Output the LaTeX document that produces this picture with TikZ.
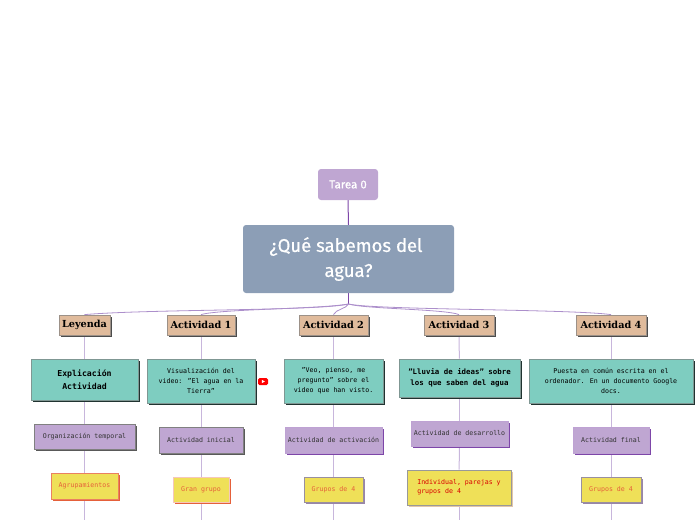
\documentclass[tikz,border=0pt]{standalone}
\usepackage{fontspec}
\setmainfont{DejaVu Sans Mono}
\newfontfamily\titulofont[FakeBold=0.5]{Fira Sans}
\newfontfamily\cabecerafont{DejaVu Serif}
\usetikzlibrary{shadows,backgrounds}
\definecolor{azultitulo}{HTML}{8C9EB6}
\definecolor{lila}{HTML}{BFA6D2}
\definecolor{lilaosc}{HTML}{7D46A8}
\definecolor{linea}{HTML}{C8B6DC}
\definecolor{rama}{HTML}{AC8FCB}
\definecolor{turquesa}{HTML}{7ECDC0}
\definecolor{marron}{HTML}{E0BB9C}
\definecolor{amarillo}{HTML}{EFE058}
\definecolor{naranja}{HTML}{E5603A}
\tikzset{
	sombra/.style={drop shadow={shadow xshift=1.6pt,shadow yshift=-1.6pt,fill=#1,opacity=1}},
	caja/.style={rectangle,inner sep=0pt,align=center,line width=0.8pt},
	cabecera/.style={caja,fill=marron,draw=gray!70!marron,sombra=black!70,minimum height=20pt,font=\cabecerafont\bfseries\fontsize{9.7}{11}\selectfont},
	explica/.style={caja,fill=turquesa,draw=gray!70!turquesa,sombra=black!75!turquesa,font=\fontsize{6.6}{10}\selectfont},
	tiempo/.style={caja,fill=lila,draw=lilaosc!50,sombra=lilaosc,minimum height=25pt,text=black!80,font=\fontsize{6.6}{9}\selectfont},
	grupo/.style={caja,fill=amarillo,draw=gray!60!lila,sombra=black!20!lila,minimum height=25pt,text=naranja,font=\fontsize{6.6}{9}\selectfont},
	union/.style={line width=1pt,linea},
	curva/.style={line width=0.8pt,rama},
}
\begin{document}
\begin{tikzpicture}[x=1pt,y=-1pt]
	\useasboundingbox (0,0) rectangle (696,520);

	% Tarea y titulo
	\node[rectangle,rounded corners=3pt,fill=lila,text=white,minimum width=60pt,minimum height=31pt,font=\titulofont\fontsize{11.5}{14}\selectfont] (tarea) at (348,184.5) {Tarea 0};
	\node[rectangle,rounded corners=3pt,fill=azultitulo,text=white,align=center,minimum width=211pt,minimum height=68pt,font=\titulofont\fontsize{18.5}{25}\selectfont] (titulo) at (348.5,259) {¿Qué sabemos del\hspace*{5pt}\\agua?};
	\coordinate (centro) at (348.5,304);

	% Leyenda
	\node[cabecera,minimum width=51pt] (cab0) at (84.5,325) {Leyenda};
	\node[explica,minimum width=107pt,minimum height=41pt,font=\bfseries\fontsize{8.2}{13}\selectfont] (exp0) at (84.5,379.5) {Explicación\\ Actividad};
	\node[tiempo,minimum width=101pt,draw=gray,sombra=black!65] (tie0) at (84.5,436.5) {Organización temporal};
	\node[grupo,minimum width=67pt,minimum height=26pt,draw=naranja!80,sombra=naranja] (gru0) at (84.5,486) {Agrupamientos};

	% Actividad 1
	\node[cabecera,minimum width=68pt] (cab1) at (201,325) {Actividad 1};
	\node[explica,minimum width=108pt,minimum height=44pt] (exp1) at (201,381) {Visualización del\\video: "El agua en la\\Tierra"};
	\node[tiempo,minimum width=84pt,minimum height=26pt,draw=gray,sombra=black!65] (tie1) at (201,440) {Actividad inicial};
	\node[grupo,minimum width=56pt,draw=naranja!35,sombra=naranja] (gru1) at (201,489.5) {Gran grupo};
	\node[rectangle,rounded corners=1.5pt,fill=red,minimum width=10pt,minimum height=7pt,inner sep=0pt] (video) at (263,381.5) {};
	\fill[white] (261.8,379.8) -- (264.8,381.5) -- (261.8,383.2) -- cycle;

	% Actividad 2
	\node[cabecera,minimum width=69pt] (cab2) at (333.5,325) {Actividad 2};
	\node[explica,minimum width=99pt,minimum height=44pt] (exp2) at (333.5,381) {"Veo, pienso, me\\pregunto" sobre el\\video que han visto.};
	\node[tiempo,minimum width=97pt,minimum height=26pt] (tie2) at (333.5,440) {Actividad de activación};
	\node[grupo,minimum width=59pt] (gru2) at (333.5,489.5) {Grupos de 4};

	% Actividad 3
	\node[cabecera,minimum width=70pt] (cab3) at (459,325) {Actividad 3};
	\node[explica,minimum width=121pt,minimum height=38pt,font=\bfseries\fontsize{7.4}{11}\selectfont] (exp3) at (459.5,378) {"Lluvia de ideas" sobre\\los que saben del agua};
	\node[tiempo,minimum width=97pt] (tie3) at (459.5,433.5) {Actividad de desarrollo};
	\node[grupo,minimum width=104pt,minimum height=35pt,text=red!85!black,align=left,draw=gray!80,sombra=brown!45] (gru3) at (459,487.5) {Individual, parejas y\\grupos de 4\hspace*{39.6pt}};

	% Actividad 4
	\node[cabecera,minimum width=70pt] (cab4) at (611,325) {Actividad 4};
	\node[explica,minimum width=164pt,minimum height=44pt] (exp4) at (611,381) {Puesta en común escrita en el\\ordenador. En un documento Google\\docs.};
	\node[tiempo,minimum width=76pt,minimum height=26pt] (tie4) at (611,440) {Actividad final};
	\node[grupo,minimum width=60pt] (gru4) at (611,489.5) {Grupos de 4};

	% Conectores
	\begin{pgfonlayer}{background}
		\draw[line width=1pt,lilaosc] (tarea.south) -- (titulo.north);
		\draw[line width=1pt,lilaosc] (titulo.south) -- (centro);
		\draw[curva] (centro) .. controls (320,311) and (150,309) .. (cab0.north);
		\draw[curva] (centro) .. controls (320,309) and (220,309) .. (cab1.north);
		\draw[curva] (centro) .. controls (346,309) and (336,309) .. (cab2.north);
		\draw[curva] (centro) .. controls (365,309) and (445,309) .. (cab3.north);
		\draw[curva] (centro) .. controls (375,310) and (570,309) .. (cab4.north);
		\foreach \n in {0,...,4} {
			\coordinate (fin\n) at (gru\n.south |- 0,520);
			\draw[union] (cab\n) -- (exp\n);
			\draw[union] (exp\n) -- (tie\n);
			\draw[union] (tie\n) -- (gru\n);
			\draw[union] (gru\n) -- (fin\n);
		}
	\end{pgfonlayer}
\end{tikzpicture}
\end{document}
